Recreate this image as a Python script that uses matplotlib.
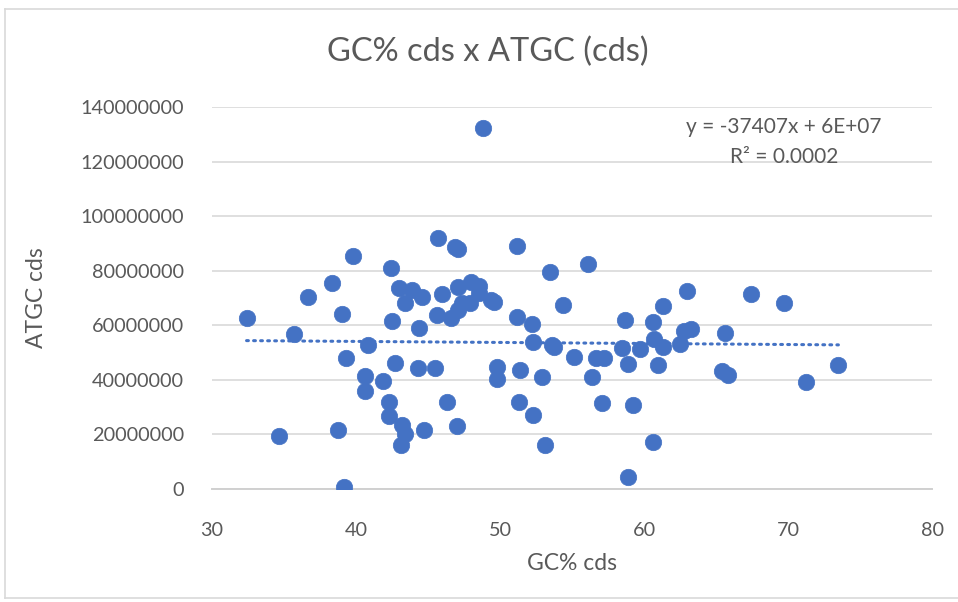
import numpy as np
import matplotlib
matplotlib.use('Agg')
from matplotlib import pyplot as plt
from matplotlib.lines import Line2D

# GC% of cds vs ATGC count (cds)
gc = [32.4, 34.65, 35.7, 36.7, 38.35, 38.75, 39.0, 39.2, 39.3, 39.8,
      40.6, 40.65, 40.8, 41.9, 42.3, 42.3, 42.4, 42.5, 42.7, 43.0,
      43.1, 43.2, 43.4, 43.4, 43.9, 44.3, 44.4, 44.6, 44.7, 45.5,
      45.6, 45.7, 46.0, 46.3, 46.6, 46.9, 47.1, 47.0, 47.05, 47.05,
      47.35, 47.9, 48.0, 48.55, 48.55, 48.8, 49.4, 49.6, 49.8, 49.8,
      51.15, 51.15, 51.3, 51.4, 52.2, 52.3, 52.3, 52.9, 53.1, 53.5,
      53.6, 53.75, 54.4, 55.15, 56.1, 56.4, 56.7, 57.2, 57.05, 58.5,
      58.7, 58.9, 58.9, 59.25, 59.7, 60.6, 60.6, 60.7, 61.0, 61.3,
      61.3, 62.5, 62.75, 63.0, 63.25, 65.6, 65.4, 65.8, 67.4, 69.7,
      71.25, 73.5]
atgc = [62.7, 19.5, 56.8, 70.2, 75.4, 21.7, 64.1, 0.9, 47.9, 85.5,
        35.9, 41.4, 52.8, 39.6, 31.9, 26.6, 81.1, 61.7, 46.0, 73.6,
        16.3, 23.5, 20.2, 68.1, 73.0, 44.3, 58.9, 70.5, 21.5, 44.3,
        63.8, 92.1, 71.4, 32.0, 62.6, 88.8, 88.0, 23.1, 73.9, 65.6,
        68.1, 68.1, 75.8, 74.4, 72.0, 132.2, 69.3, 68.4, 44.7, 40.3,
        89.1, 63.2, 31.8, 43.6, 60.4, 53.7, 27.0, 41.2, 16.0, 79.7,
        52.8, 51.9, 67.4, 48.5, 82.3, 41.2, 47.9, 47.9, 31.4, 51.7,
        61.9, 45.7, 4.3, 30.9, 51.4, 61.3, 17.2, 54.8, 45.4, 67.1,
        51.9, 53.2, 58.0, 72.6, 58.6, 57.0, 43.2, 41.8, 71.3, 68.1,
        39.1, 45.4]
atgc = [v * 1e6 for v in atgc]

blue = '#4472C4'
grey_txt = '#595959'
plt.rcParams['font.family'] = ['Lato', 'DejaVu Sans']

fig = plt.figure(figsize=(9.58, 6.02), dpi=100)
ax = fig.add_axes([212 / 958, 1 - 489 / 602, 720 / 958, 382 / 602])

ax.scatter(gc, atgc, s=140, color=blue, edgecolors=blue, linewidths=0.5, zorder=3)

# linear trendline
m, b = np.polyfit(gc, atgc, 1)
xs = np.array([min(gc), max(gc)])
ax.plot(xs, m * xs + b, color=blue, lw=2.2, ls=(0, (0.6, 1.7)),
        dash_capstyle='round', zorder=2)

ax.set_xlim(30, 80)
ax.set_ylim(0, 140000000)
ax.set_xticks(range(30, 81, 10))
ax.set_yticks(range(0, 140000001, 20000000))
ax.set_yticklabels([str(v) for v in range(0, 140000001, 20000000)])
ax.grid(axis='y', color='#D9D9D9', lw=1.2)
ax.set_axisbelow(True)
for s in ['top', 'right', 'left']:
    ax.spines[s].set_visible(False)
ax.spines['bottom'].set_color('#D0D0D0')
ax.spines['bottom'].set_linewidth(1.4)
ax.tick_params(length=0, labelsize=14.3, labelcolor=grey_txt)
ax.tick_params(axis='y', pad=20)
ax.tick_params(axis='x', pad=24)

ax.set_xlabel('GC% cds', fontsize=16.5, color=grey_txt, labelpad=10)
ax.set_ylabel('ATGC cds', fontsize=16.5, color=grey_txt, labelpad=24)

fig.text(488 / 958, 1 - 52 / 602, 'GC% cds x ATGC (cds)', fontsize=23.5,
         color=grey_txt, ha='center', va='center')
fig.text(784 / 958, 1 - 127 / 602, 'y = -37407x + 6E+07', fontsize=15,
         color=grey_txt, ha='center', va='center')
fig.text(784 / 958, 1 - 157 / 602, 'R² = 0.0002', fontsize=15,
         color=grey_txt, ha='center', va='center')

# chart border
bc = '#D9D9D9'
fig.add_artist(Line2D([5 / 958, 5 / 958], [1 - 598 / 602, 1 - 9 / 602], color=bc, lw=1.2))
fig.add_artist(Line2D([5 / 958, 1], [1 - 9 / 602, 1 - 9 / 602], color=bc, lw=1.2))
fig.add_artist(Line2D([5 / 958, 1], [1 - 598 / 602, 1 - 598 / 602], color=bc, lw=1.2))

fig.savefig('out.png', dpi=100)
